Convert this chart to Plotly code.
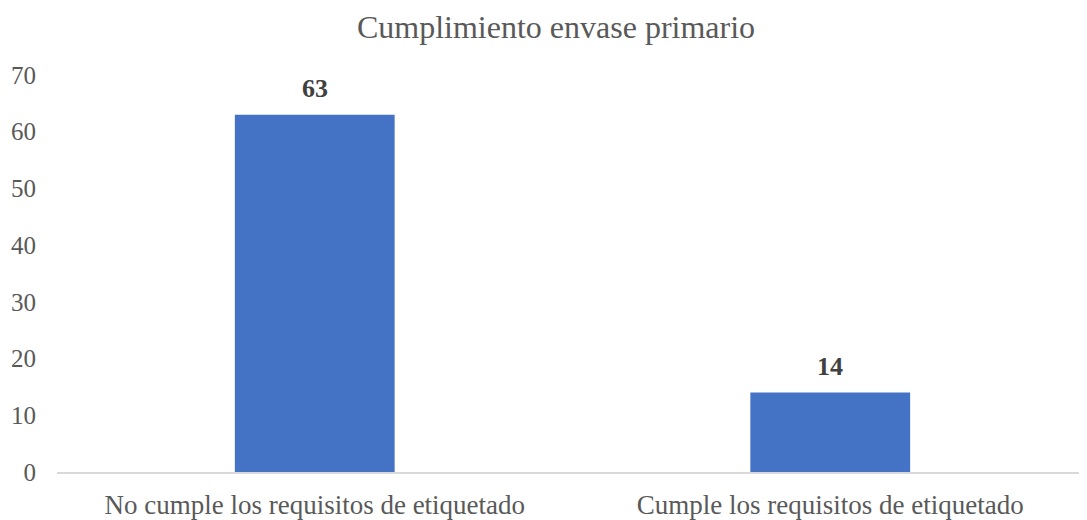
import plotly.graph_objects as go

# chart data
categories = ['No cumple los requisitos de etiquetado', 'Cumple los requisitos de etiquetado']
values = [63, 14]
y_ticks = [0, 10, 20, 30, 40, 50, 60, 70]

FONT = 'Liberation Serif, Times New Roman, serif'
W, H = 1087, 520
OFF = 8  # page body margin shifts the figure by this much

fig = go.Figure()
fig.add_trace(go.Bar(
    x=categories,
    y=values,
    marker=dict(color='#4472C4', line=dict(width=0)),
    width=0.31,
    hoverinfo='x+y',
))

# bold value labels above each bar
for cat, val in zip(categories, values):
    fig.add_annotation(
        x=cat, y=val, text=f'<b>{val}</b>', showarrow=False,
        yanchor='bottom', yshift=10,
        font=dict(family=FONT, size=26, color='#404040'),
    )

fig.update_layout(
    width=W, height=H,
    margin=dict(l=57 - OFF, r=OFF - 1, t=75 - OFF, b=48 + OFF),
    paper_bgcolor='white', plot_bgcolor='white',
    title=dict(text='Cumplimiento envase primario', x=(556 - OFF) / W, xanchor='center',
               y=1 - (27 - OFF) / H, yanchor='middle',
               font=dict(family=FONT, size=32, color='#595959')),
    font=dict(family=FONT, size=25, color='#595959'),
    showlegend=False,
    bargap=0.69,
)
fig.update_xaxes(showline=True, linecolor='#D9D9D9', linewidth=1.5,
                 ticks='', showgrid=False, automargin=False, ticklabelstandoff=8,
                 tickfont=dict(family=FONT, size=27, color='#595959'))
fig.update_yaxes(range=[0, 70], tickvals=y_ticks, showgrid=False, zeroline=False,
                 showline=False, ticks='', ticklabelstandoff=20, automargin=False,
                 tickfont=dict(family=FONT, size=25, color='#595959'))

fig.write_html('out.html')
